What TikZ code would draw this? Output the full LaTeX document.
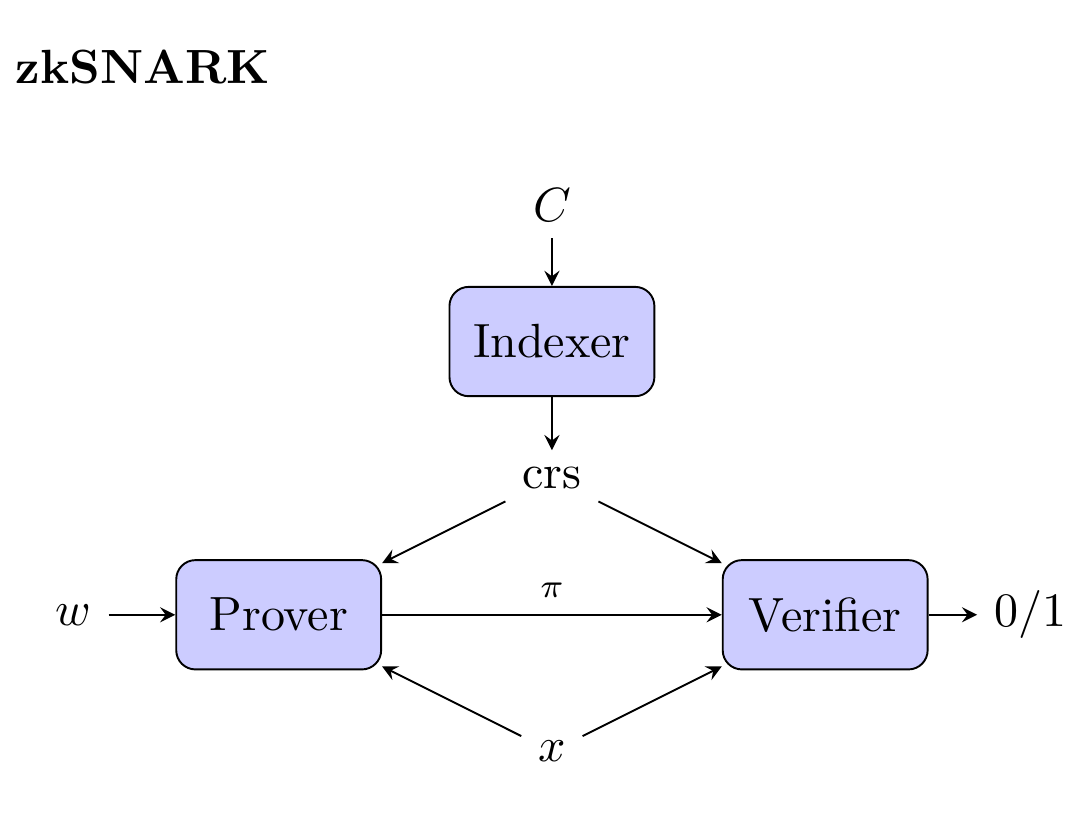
\documentclass[tikz,border=0pt]{standalone}
\usepackage{tikz}
\usepackage{xcolor}
\usepackage{amsmath}

\begin{document}
\begin{tikzpicture}[>=stealth,
    algobox/.style={draw, fill=blue!20, rounded corners, minimum width=1.5cm, minimum height=0.8cm}]
    \useasboundingbox (-4.04,-3.45) rectangle (3.88,2.5);
    \node[anchor=west, inner sep=0pt] (title) at (-3.93,2.01) {\textbf{zkSNARK}};

    \node (circuit) at (0,1) {$C$};
    \node[algobox] (indexer) at (0,0) {Indexer};
    \node (crs) at (0,-1) {crs};

    \node[algobox] (prover) at (-2,-2) {Prover};
    \node[algobox] (verifier) at (2,-2) {Verifier};
    \node (witness) at (-3.5,-2) {$w$};
    \node (result) at (3.5,-2) {$0/1$};
    \node (statement) at (0,-3) {$x$};

    \draw[->] (circuit) -- (indexer);
    \draw[->] (indexer) -- (crs);
    \draw[->] (crs) -- (prover);
    \draw[->] (crs) -- (verifier);
    \draw[->] (witness) -- (prover);
    \draw[->] (prover) -- node[above, font=\scriptsize] {$\pi$} (verifier);
    \draw[->] (verifier) -- (result);
    \draw[->] (statement) -- (prover);
    \draw[->] (statement) -- (verifier);
\end{tikzpicture}
\end{document}
